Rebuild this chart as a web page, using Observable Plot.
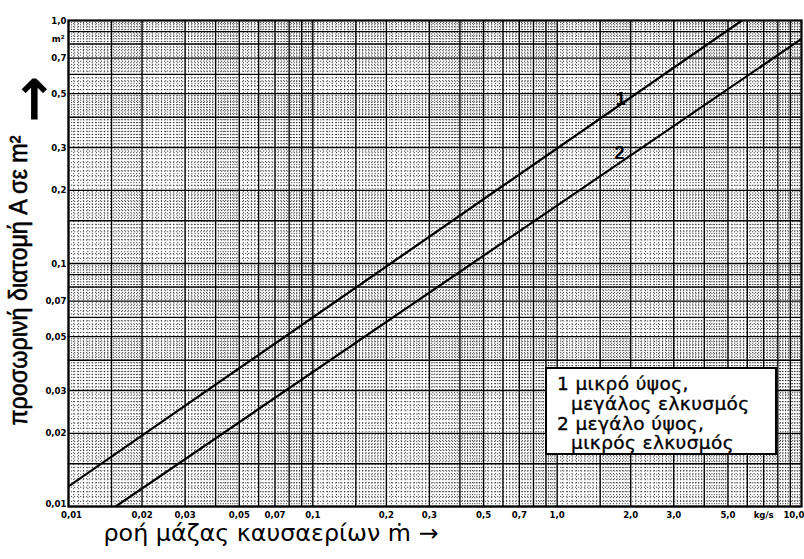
<!DOCTYPE html>
<html>
<head>
<meta charset="utf-8">
<script src="https://cdn.jsdelivr.net/npm/d3@7"></script>
<script src="https://cdn.jsdelivr.net/npm/@observablehq/plot@0.6"></script>
<style>
  body { margin: 0; background: #fff; }
  #wrap { position: relative; width: 804px; height: 559px; overflow: hidden; background: #fff; }
  #legend {
    position: absolute; left: 545px; top: 367px; width: 228px; height: 84px;
    border: 2px solid #000; background: #fff; box-sizing: content-box;
    font-family: "DejaVu Sans", sans-serif; font-size: 18.5px; line-height: 19.8px;
    letter-spacing: 0.4px; -webkit-text-stroke: 0.35px #000;
    padding: 0; color: #000;
  }
  #legend div { white-space: nowrap; padding-left: 10px; }
  #legend div.ind { padding-left: 24px; }
  #legend div.first { margin-top: 5px; }
</style>
</head>
<body>
<div id="wrap"></div>
<script>
// ---- data ----
const xTicks = [0.01, 0.02, 0.03, 0.05, 0.07, 0.1, 0.2, 0.3, 0.5, 0.7, 1, 2, 3, 5, 7, 10];
const xTickLabels = ["0,01", "0,02", "0,03", "0,05", "0,07", "0,1", "0,2", "0,3", "0,5", "0,7", "1,0", "2,0", "3,0", "5,0", "kg/s", "10,0"];
const yTicks = [1, 0.7, 0.5, 0.3, 0.2, 0.1, 0.07, 0.05, 0.03, 0.02, 0.01];
const yTickLabels = ["1,0", "0,7", "0,5", "0,3", "0,2", "0,1", "0,07", "0,05", "0,03", "0,02", "0,01"];
const unitLabel = "m²";
const unitY = 0.84;

// curve 1: small height, large draught ; curve 2: large height, small draught
const line1X = [0.01, 5.7];
const line1Y = [0.0121, 1.0];
const line2X = [0.0156, 10];
const line2Y = [0.01, 0.84];
const curveNames = ["1", "2"];
const curveLabelX = [1.82, 1.8];
const curveLabelY = [0.475, 0.285];

const xTitle = "ροή μάζας καυσαερίων ṁ →";
const yTitle = "προσωρινή διατομή A σε m²";
const legendLines = ["1 μικρό ύψος,", "μεγάλος ελκυσμός", "2 μεγάλο ύψος,", "μικρός ελκυσμός"];

// log-paper grid
const xDecades = [0.01, 0.1, 1];
const yDecades = [0.01, 0.1];
const heavyMantissas = [1, 1.5, 2, 3, 4, 5, 6, 7, 8, 9];
const fineMantissas = [
  ...d3.range(1.05, 1.999, 0.05),
  ...d3.range(2.1, 4.99, 0.1),
  ...d3.range(5.2, 9.9, 0.2)
].filter(m => Math.abs(m - Math.round(m)) > 1e-6 && Math.abs(m - 1.5) > 1e-6);

const gridVals = (decs, mans) => decs.flatMap(d => mans.map(m => +(d * m).toPrecision(6)));
const heavyX = gridVals(xDecades, heavyMantissas);
const heavyY = gridVals(yDecades, heavyMantissas);
const fineX = gridVals(xDecades, fineMantissas);
const fineY = gridVals(yDecades, fineMantissas);

const line1 = line1X.map((x, i) => ({x, y: line1Y[i]}));
const line2 = line2X.map((x, i) => ({x, y: line2Y[i]}));
const curveLabels = curveNames.map((t, i) => ({t, x: curveLabelX[i], y: curveLabelY[i]}));

const nX = xTicks.length;
const xTickData = xTicks.map((v, i) => ({v, t: xTickLabels[i], dx: i === 0 ? 3 : i === nX - 1 ? 3 : 0, anchor: i === nX - 1 ? "end" : "middle"}));
const yTickData = yTicks.map((v, i) => ({v, t: yTickLabels[i], dy: i === yTicks.length - 1 ? -3 : 0}));

const tickFont = {fontFamily: "'DejaVu Sans Condensed', 'DejaVu Sans', sans-serif", fontWeight: "bold", fontSize: 9.5};

const chart = Plot.plot({
  width: 804,
  height: 559,
  marginLeft: 68,
  marginRight: 3,
  marginTop: 20,
  marginBottom: 53,
  style: {background: "#fff", fontFamily: "'Liberation Sans', Arial, sans-serif", color: "#000"},
  x: {type: "log", domain: [0.01, 10], axis: null},
  y: {type: "log", domain: [0.01, 1], axis: null},
  marks: [
    Plot.ruleX(fineX, {stroke: "#000", strokeWidth: 0.9, strokeDasharray: "1.2,1.8", strokeOpacity: 0.8}),
    Plot.ruleY(fineY, {stroke: "#000", strokeWidth: 0.9, strokeDasharray: "1.2,1.8", strokeOpacity: 0.8}),
    Plot.ruleX(heavyX, {stroke: "#000", strokeWidth: 1.4}),
    Plot.ruleY(heavyY, {stroke: "#000", strokeWidth: 1.4}),
    Plot.frame({stroke: "#000", strokeWidth: 2.2}),
    Plot.line(line1, {x: "x", y: "y", stroke: "#000", strokeWidth: 2.2, clip: true}),
    Plot.line(line2, {x: "x", y: "y", stroke: "#000", strokeWidth: 2.2, clip: true}),
    Plot.text(curveLabels, {x: "x", y: "y", text: "t", fontSize: 18, fontWeight: "bold", fill: "#000",
      fontFamily: "'Liberation Sans', Arial, sans-serif"}),
    // x tick labels
    ...xTickData.map(d => Plot.text([d], {x: "v", text: "t", frameAnchor: "bottom", dy: 11, dx: d.dx, textAnchor: d.anchor, fill: "#000", ...tickFont})),
    // y tick labels
    ...yTickData.map(d => Plot.text([d], {y: "v", text: "t", frameAnchor: "left", textAnchor: "end", dx: -2, dy: d.dy, fill: "#000", ...tickFont})),
    Plot.text([unitLabel], {y: () => unitY, text: d => d, frameAnchor: "left", textAnchor: "end", dx: -4, fill: "#000", ...tickFont}),
    // axis titles
    Plot.text([xTitle], {frameAnchor: "bottom-left", textAnchor: "start", dx: 35, dy: 34, fontSize: 23.8,
      fontFamily: "'DejaVu Sans', sans-serif", fill: "#000", text: d => d}),
    Plot.text([yTitle], {frameAnchor: "bottom-left", textAnchor: "start", rotate: -90, dx: -42, dy: -81, fontSize: 26,
      fontFamily: "'Liberation Sans', Arial, sans-serif", fill: "#000", stroke: "#000", strokeWidth: 0.6,
      text: d => d, className: "ytitle"}),
    Plot.text(["→"], {frameAnchor: "top-left", textAnchor: "start", rotate: -90, dx: -56, dy: 102, fontSize: 56,
      fontWeight: "bold", fontFamily: "'DejaVu Sans', sans-serif", fill: "#000", text: d => d})
  ]
});

const wrap = document.getElementById("wrap");
wrap.appendChild(chart);

// stretch the rotated y title to the span it covers in the reference
const yt = chart.querySelector(".ytitle text");
if (yt) { yt.setAttribute("textLength", 290); yt.setAttribute("lengthAdjust", "spacingAndGlyphs"); }

const legend = document.createElement("div");
legend.id = "legend";
legendLines.forEach((t, i) => {
  const row = document.createElement("div");
  row.textContent = t;
  if (i % 2 === 1) row.className = "ind";
  if (i === 0) row.className = "first";
  legend.appendChild(row);
});
wrap.appendChild(legend);
</script>
</body>
</html>
